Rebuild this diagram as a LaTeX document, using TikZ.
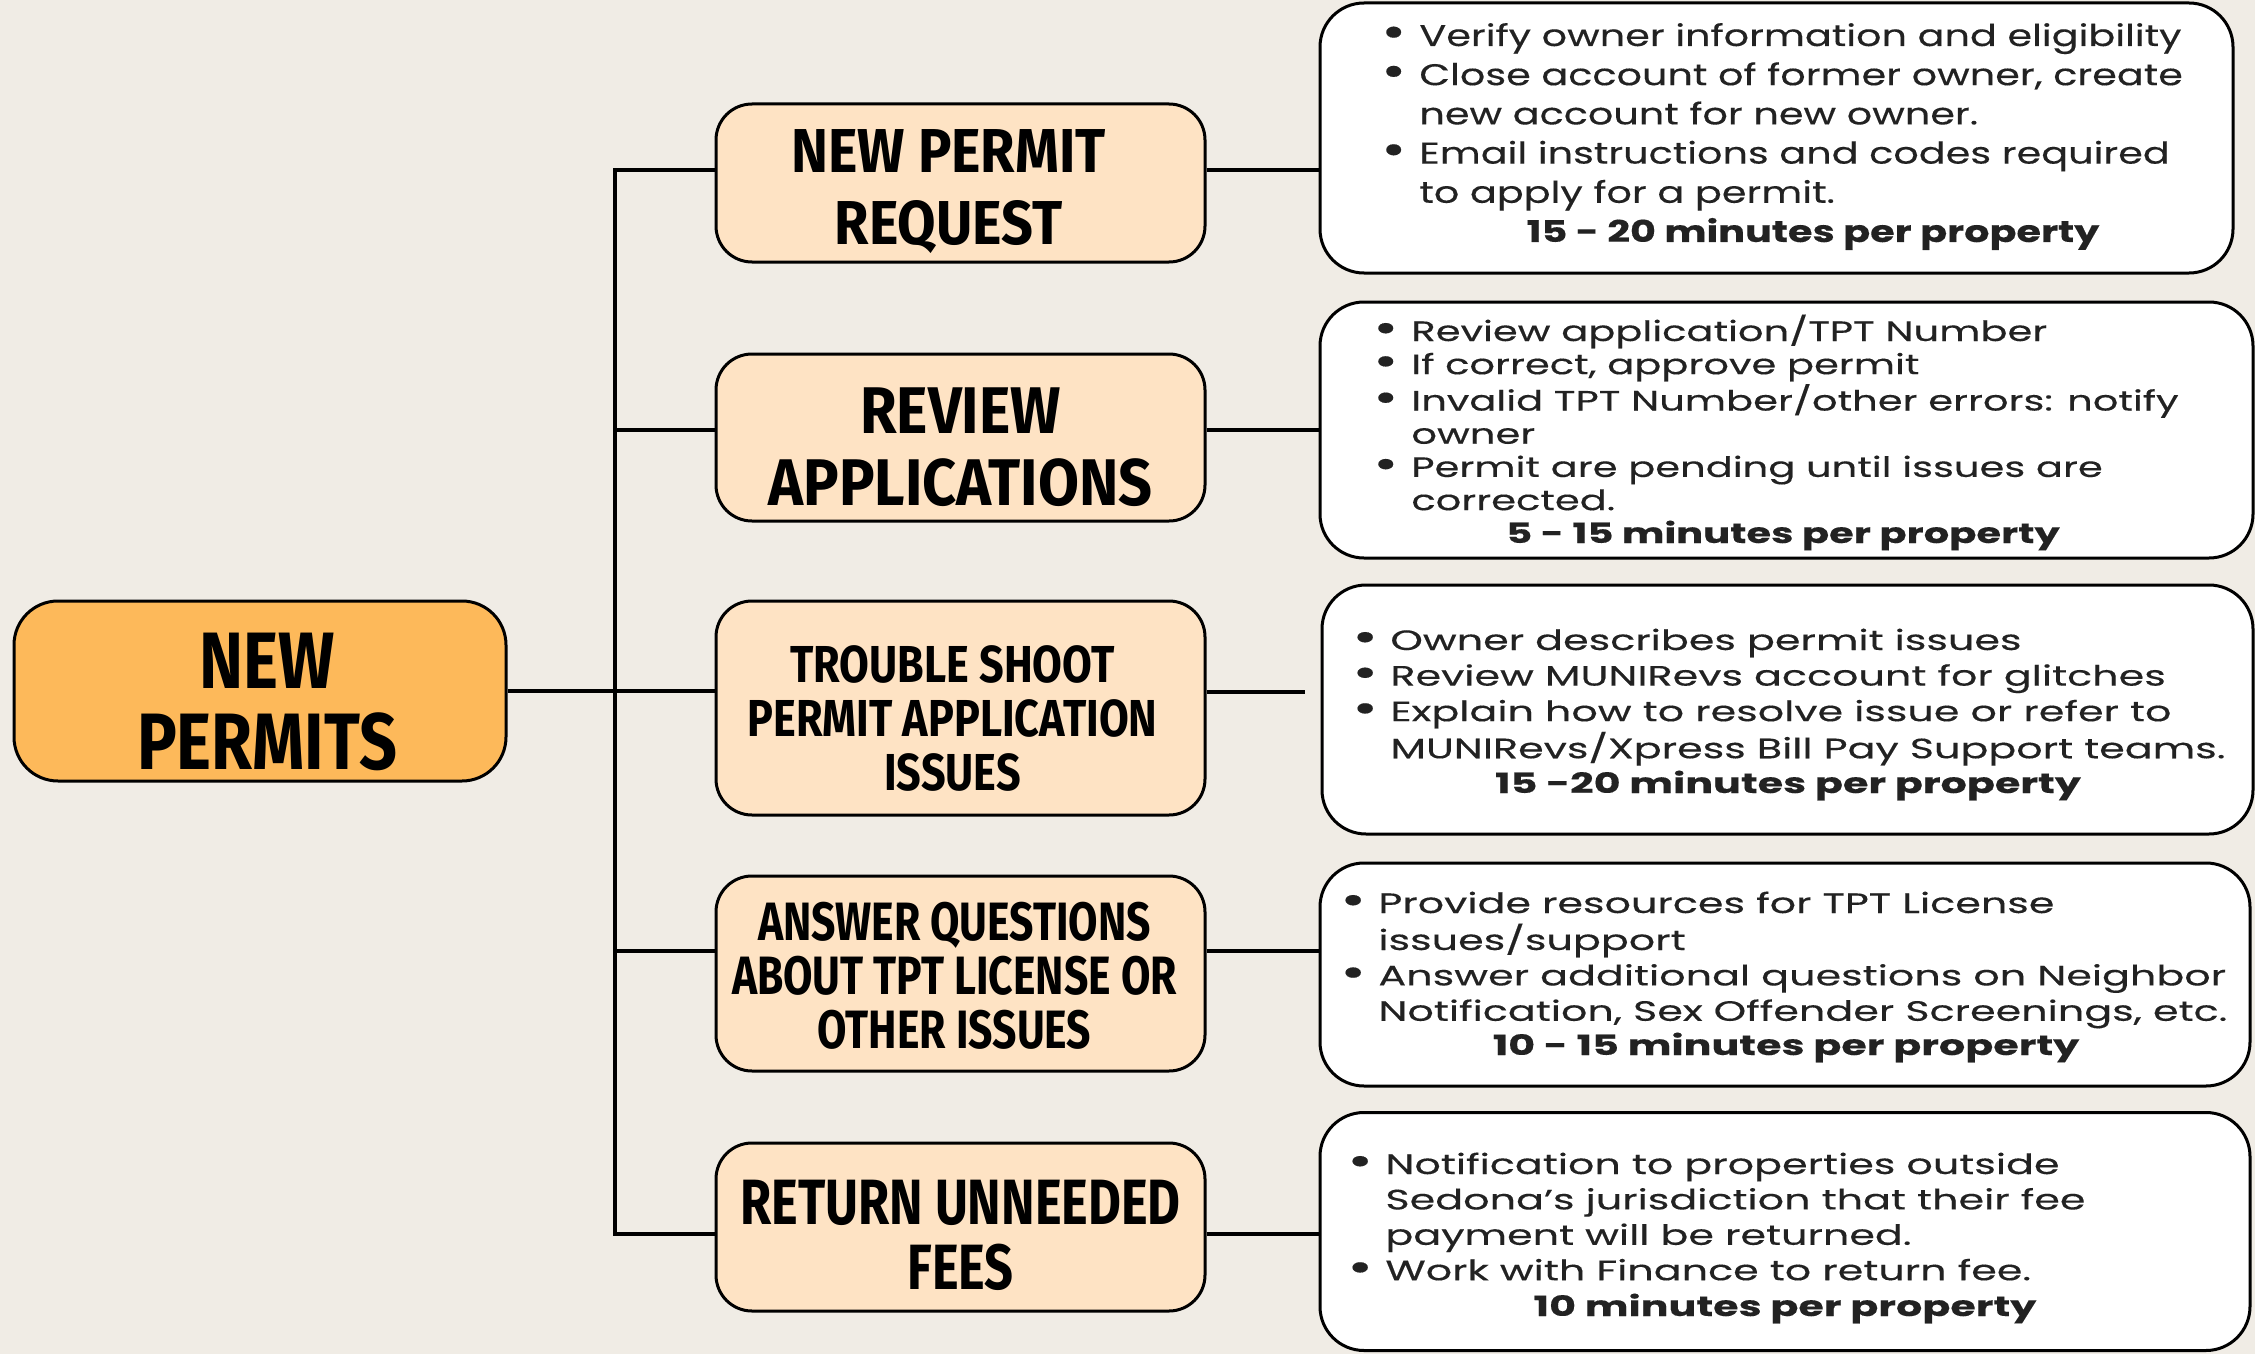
\documentclass[tikz,border=0pt]{standalone}
\usepackage{fontspec}
\setmainfont{Poppins}
\newfontfamily\bodyfontA[FakeStretch=1.326,FakeBold=0.3]{Poppins}
\newfontfamily\bodyfontB[FakeStretch=1.43,FakeBold=0.3]{Poppins}
\newfontfamily\bodyfontC[FakeStretch=1.475,FakeBold=0.3]{Poppins}
\newfontfamily\tfA[FakeStretch=0.9]{Fira Sans}
\newfontfamily\tfM[FakeStretch=0.83]{Fira Sans}
\newfontfamily\tfD[FakeStretch=0.79]{Fira Sans}
\definecolor{paper}{HTML}{F0ECE5}
\definecolor{mainorange}{HTML}{FDB95A}
\definecolor{peach}{HTML}{FEE3C4}
\definecolor{ink}{HTML}{222222}
\newcommand{\bul}{\makebox[19pt][l]{\raisebox{-0.6pt}{\scalebox{1.5}{\textbullet}}}}
\newcommand{\ttext}[3]{\raisebox{#1}[\height][\depth]{\hspace*{#2}\begin{tabular}{@{}c@{}}#3\end{tabular}}}
\tikzset{
  mainbox/.style={draw=black, line width=1.5pt, fill=mainorange, rounded corners=22pt,
    minimum width=246pt, minimum height=90pt, inner sep=0pt, align=center,
    font=\tfM\bfseries\fontsize{40}{40}\selectfont},
  branchbox/.style={draw=black, line width=1.5pt, fill=peach, rounded corners=18pt,
    minimum width=244.5pt, inner sep=0pt, align=center},
  detailbox/.style={draw=black, line width=1.5pt, fill=white, rounded corners=22pt, inner sep=0pt},
  conn/.style={line width=1.6pt, draw=black},
  bodytext/.style={anchor=base west, inner sep=0pt, text=ink},
  boldline/.style={anchor=base, inner sep=0pt, text=ink},
}
\begin{document}
\begin{tikzpicture}[x=0.5pt, y=-0.5pt]
\useasboundingbox (0,0) rectangle (2255,1354);
\fill[paper] (0,0) rectangle (2255,1354);

% main node
\node[mainbox] (main) at (260,691) {\ttext{-11pt}{7pt}{NEW\\PERMITS}};

% branch nodes
\node[branchbox, minimum height=79pt, font=\tfA\bfseries\fontsize{31}{36}\selectfont] (b1) at (960.5,183) {\ttext{-5.75pt}{-12pt}{NEW PERMIT\\REQUEST}};
\node[branchbox, minimum height=83.5pt, font=\tfA\bfseries\fontsize{33}{36}\selectfont] (b2) at (960.5,437.5) {\ttext{-8.6pt}{0pt}{REVIEW\\APPLICATIONS}};
\node[branchbox, minimum height=107pt, font=\tfM\bfseries\fontsize{26}{27}\selectfont] (b3) at (960.5,708) {\ttext{-8.6pt}{-8pt}{TROUBLE SHOOT\\PERMIT APPLICATION\\ISSUES}};
\node[branchbox, minimum height=97.5pt, font=\tfD\bfseries\fontsize{27}{26.5}\selectfont] (b4) at (960.5,973.5) {\ttext{-5pt}{-6pt}{ANSWER QUESTIONS\\ABOUT TPT LICENSE OR\\OTHER ISSUES}};
\node[branchbox, minimum height=84pt, font=\tfD\bfseries\fontsize{32}{31.5}\selectfont] (b5) at (960.5,1227) {\ttext{-8.6pt}{0pt}{RETURN UNNEEDED\\FEES}};

% detail boxes
\node[detailbox, minimum width=456.5pt, minimum height=135pt] (d1) at (1776.5,138) {};
\node[detailbox, minimum width=466.5pt, minimum height=128pt] (d2) at (1786.5,430) {};
\node[detailbox, minimum width=465.5pt, minimum height=124.5pt] (d3) at (1787.5,709.5) {};
\node[detailbox, minimum width=465pt, minimum height=111.5pt] (d4) at (1785,974.5) {};
\node[detailbox, minimum width=465pt, minimum height=119pt] (d5) at (1785,1231.5) {};

% connector coordinates
\coordinate (j1) at (615,170);
\coordinate (j2) at (615,430);
\coordinate (j4) at (615,951);
\coordinate (j5) at (615,1234);
\coordinate (e3) at (1305,692);

% connectors
\draw[conn] (j1 -| b1.west) -- (j1) -- (j5) -- (j5 -| b5.west);
\draw[conn] (j2) -- (j2 -| b2.west);
\draw[conn] (j4) -- (j4 -| b4.west);
\draw[conn] (main.east) -- (main.east -| b3.west);
\draw[conn] (j1 -| b1.east) -- (j1 -| d1.west);
\draw[conn] (j2 -| b2.east) -- (j2 -| d2.west);
\draw[conn] (e3 -| b3.east) -- (e3);
\draw[conn] (j4 -| b4.east) -- (j4 -| d4.west);
\draw[conn] (j5 -| b5.east) -- (j5 -| d5.west);

% detail texts
\node[bodytext, font=\bodyfontA\fontsize{15}{19.6}\selectfont] (t1) at (1381,46) {%
\begin{tabular}[t]{@{}l@{}l@{}}
\bul & Verify owner information and eligibility\\
\bul & Close account of former owner, create\\
 & new account for new owner.\\
\bul & Email instructions and codes required\\
 & to apply for a permit.
\end{tabular}};
\node[boldline, font=\bodyfontA\bfseries\fontsize{15}{19.6}\selectfont] (m1) at (1813,242) {15 - 20 minutes per property};

\node[bodytext, font=\bodyfontB\fontsize{14}{16.6}\selectfont] (t2) at (1373,341) {%
\begin{tabular}[t]{@{}l@{}l@{}}
\bul & Review application/TPT Number\\
\bul & If correct, approve permit\\
\bul & Invalid TPT Number/other errors: notify\\
 & owner\\
\bul & Permit are pending until issues are\\
 & corrected.
\end{tabular}};
\node[boldline, font=\bodyfontB\bfseries\fontsize{14}{16.6}\selectfont] (m2) at (1783,543) {5 - 15 minutes per property};

\node[bodytext, font=\bodyfontC\fontsize{14}{17.8}\selectfont] (t3) at (1352,650) {%
\begin{tabular}[t]{@{}l@{}l@{}}
\bul & Owner describes permit issues\\
\bul & Review MUNIRevs account for glitches\\
\bul & Explain how to resolve issue or refer to\\
 & MUNIRevs/Xpress Bill Pay Support teams.
\end{tabular}};
\node[boldline, font=\bodyfontC\bfseries\fontsize{14}{17.8}\selectfont] (m3) at (1788,793) {15 -20 minutes per property};

\node[bodytext, font=\bodyfontC\fontsize{14}{17.7}\selectfont] (t4) at (1340,913) {%
\begin{tabular}[t]{@{}l@{}l@{}}
\bul & Provide resources for TPT License\\
 & issues/support\\
\bul & Answer additional questions on Neighbor\\
 & Notification, Sex Offender Screenings, etc.
\end{tabular}};
\node[boldline, font=\bodyfontC\bfseries\fontsize{14}{17.7}\selectfont] (m4) at (1786,1055) {10 - 15 minutes per property};

\node[bodytext, font=\bodyfontC\fontsize{14}{17.7}\selectfont] (t5) at (1347,1174) {%
\begin{tabular}[t]{@{}l@{}l@{}}
\bul & Notification to properties outside\\
 & Sedona’s jurisdiction that their fee\\
 & payment will be returned.\\
\bul & Work with Finance to return fee.
\end{tabular}};
\node[boldline, font=\bodyfontC\bfseries\fontsize{14}{17.7}\selectfont] (m5) at (1785,1316) {10 minutes per property};
\end{tikzpicture}
\end{document}
